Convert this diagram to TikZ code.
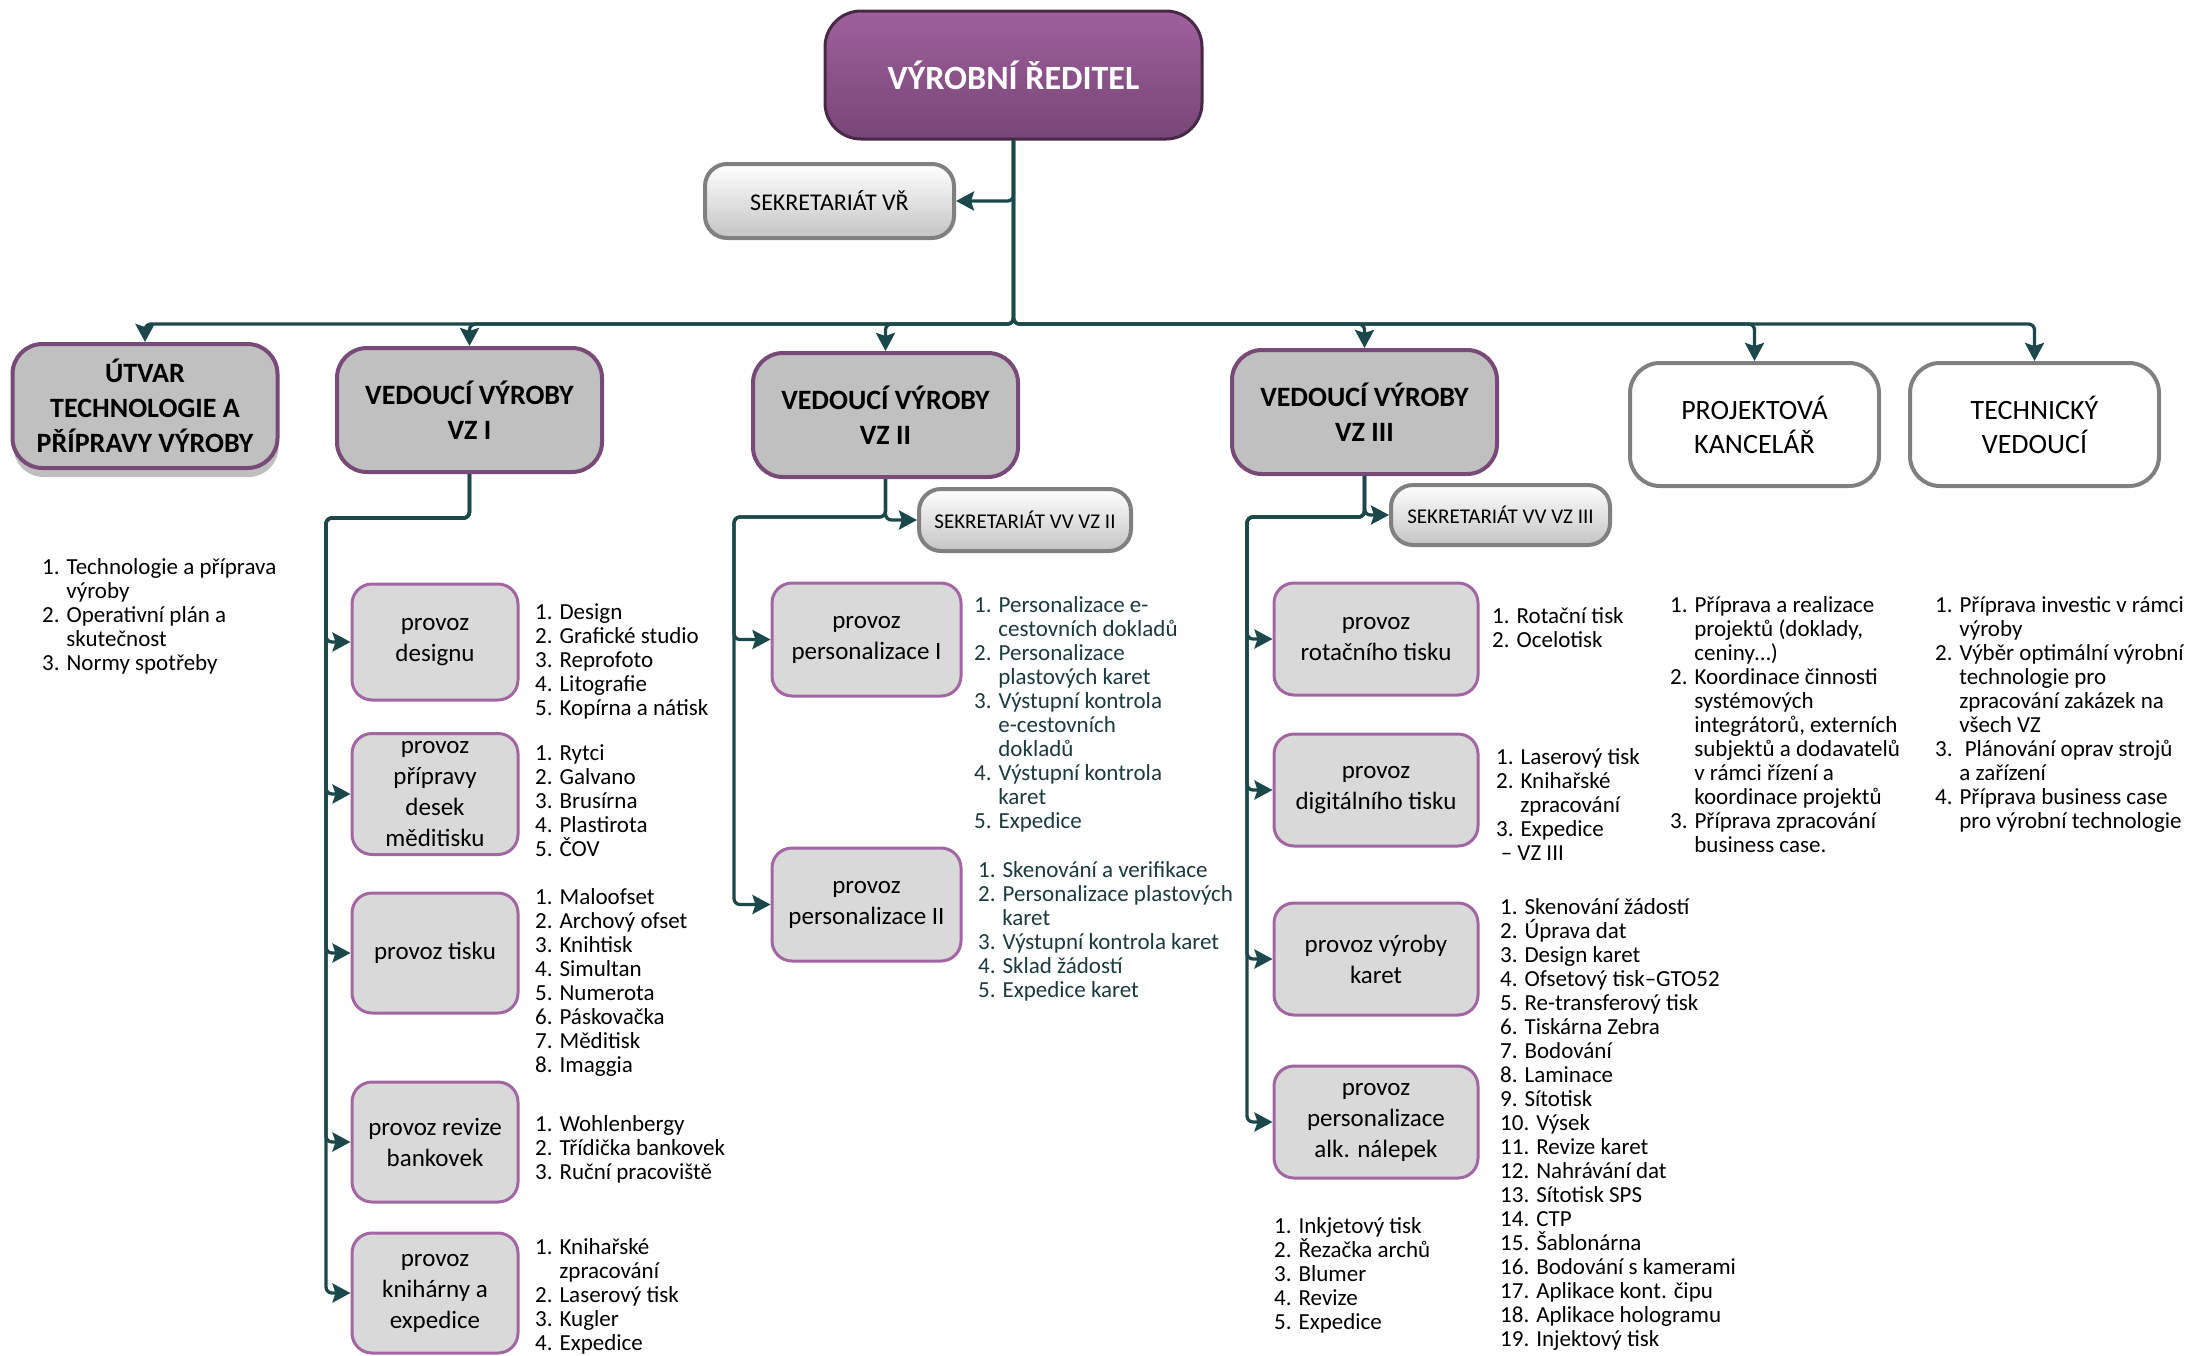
\documentclass[tikz,border=0pt]{standalone}
\usepackage{fontspec}
\setmainfont{Carlito}
\usetikzlibrary{arrows.meta,shadows,calc}
\definecolor{linec}{RGB}{27,72,74}
\definecolor{dirtop}{RGB}{158,96,156}
\definecolor{dirbot}{RGB}{120,70,118}
\definecolor{dirb}{RGB}{72,40,70}
\definecolor{vzfill}{RGB}{192,192,192}
\definecolor{vzb}{RGB}{120,74,120}
\definecolor{childfill}{RGB}{217,217,217}
\definecolor{childb}{RGB}{162,102,162}
\definecolor{grayb}{RGB}{128,128,128}
\definecolor{sekbot}{RGB}{196,196,196}
\definecolor{tealtext}{RGB}{26,58,62}
\newcommand{\ind}{\hspace*{1.05em}}
\newcommand{\nolsl}{\lineskiplimit=-100pt\relax}
\newcommand{\fvz}{\fontsize{28}{35}\selectfont\bfseries\nolsl}
\newcommand{\fgray}{\fontsize{28}{34}\selectfont\nolsl}
\newcommand{\fchild}{\fontsize{25}{31}\selectfont\nolsl}
\newcommand{\flist}{\fontsize{23}{24}\selectfont\nolsl}
\begin{document}
\begin{tikzpicture}[x=1pt,y=-1pt,
  conn/.style={draw=linec, line width=3.3pt, rounded corners=6pt},
  arr/.style={conn, -{Stealth[length=18pt,width=19pt,inset=3pt]}},
  dirbox/.style={rounded corners=36pt, draw=dirb, line width=3pt, top color=dirtop, bottom color=dirbot,
    text=white, font=\fontsize{34}{40}\selectfont\bfseries, minimum width=377pt, minimum height=128pt, inner sep=0pt},
  vzbox/.style={rounded corners=30pt, draw=vzb, line width=4pt, fill=vzfill, align=center,
    font=\fvz, minimum width=265pt, minimum height=124pt, inner sep=0pt},
  graybox/.style={rounded corners=30pt, draw=grayb, line width=4pt, fill=white, align=center,
    font=\fgray, minimum width=249pt, minimum height=123pt, inner sep=0pt},
  sekbox/.style={rounded corners=22pt, draw=grayb, line width=4pt, top color=white, bottom color=sekbot, inner sep=0pt},
  childbox/.style={rounded corners=20pt, draw=childb, line width=3pt, fill=childfill, align=center,
    font=\fchild, minimum height=116pt, inner sep=0pt},
  listtext/.style={anchor=north west, inner sep=0pt, align=left, font=\flist}
]
\useasboundingbox (0,0) rectangle (2197,1355);

% top level
\node[dirbox] (dir) at (1013.5,75) {VÝROBNÍ ŘEDITEL};
\node[sekbox, minimum width=249pt, minimum height=74pt, font=\fontsize{24}{28}\selectfont] (sekvr) at (829.5,201) {SEKRETARIÁT VŘ};

\node[vzbox, drop shadow={shadow xshift=1pt, shadow yshift=-9pt, fill=black, opacity=0.25}] (utv) at (145,406) {ÚTVAR\\TECHNOLOGIE A\\PŘÍPRAVY VÝROBY};
\node[vzbox] (vz1) at (469.5,410) {VEDOUCÍ VÝROBY\\VZ I};
\node[vzbox] (vz2) at (885.5,415) {VEDOUCÍ VÝROBY\\VZ II};
\node[vzbox] (vz3) at (1364.5,412) {VEDOUCÍ VÝROBY\\VZ III};
\node[graybox] (proj) at (1754.5,424.5) {PROJEKTOVÁ\\KANCELÁŘ};
\node[graybox] (tech) at (2034.5,424.5) {TECHNICKÝ\\VEDOUCÍ};

% secretariats
\node[sekbox, minimum width=212pt, minimum height=62pt, font=\fontsize{21}{24}\selectfont] (sek2) at (1025,520) {SEKRETARIÁT VV VZ II};
\node[sekbox, minimum width=219pt, minimum height=60pt, font=\fontsize{21}{24}\selectfont] (sek3) at (1500.5,515) {SEKRETARIÁT VV VZ III};

% VZ I children
\node[childbox, minimum width=166pt] (p11) at (435,642) {provoz\\designu};
\node[childbox, minimum width=166pt, minimum height=121pt] (p12) at (435,794) {provoz\\přípravy\\desek\\měditisku};
\node[childbox, minimum width=166pt, minimum height=120pt] (p13) at (435,953) {provoz tisku};
\node[childbox, minimum width=166pt, minimum height=120pt] (p14) at (435,1142) {provoz revize\\bankovek};
\node[childbox, minimum width=166pt, minimum height=120pt] (p15) at (435,1293) {provoz\\knihárny a\\expedice};

% VZ II children
\node[childbox, minimum width=189pt, minimum height=113pt] (p21) at (866.5,639.5) {provoz\\personalizace I};
\node[childbox, minimum width=189pt, minimum height=113pt] (p22) at (866.5,904.5) {provoz\\personalizace II};

% VZ III children
\node[childbox, minimum width=204pt, minimum height=112pt] (p31) at (1376,639) {provoz\\rotačního tisku};
\node[childbox, minimum width=204pt, minimum height=112pt] (p32) at (1376,790) {provoz\\digitálního tisku};
\node[childbox, minimum width=204pt, minimum height=112pt] (p33) at (1376,959) {provoz výroby\\karet};
\node[childbox, minimum width=204pt, minimum height=112pt] (p34) at (1376,1122) {provoz\\personalizace\\alk. nálepek};

% connectors
\coordinate (bus) at (0,324);
\draw[arr] (dir.south) |- (sekvr.east);
\foreach \n in {utv,vz1,vz2,vz3,proj,tech}
  \draw[arr] (dir.south) -- (dir.south |- bus) -| (\n.north);

\coordinate (r1) at (326,518);
\foreach \n in {p11,p12,p13,p14,p15}
  \draw[arr] (vz1.south) |- (r1) |- (\n.west);

\coordinate (r2) at (734,517);
\draw[arr] (vz2.south) |- (sek2.west);
\foreach \n in {p21,p22}
  \draw[arr] (vz2.south) |- (r2) |- (\n.west);

\coordinate (r3) at (1247,517);
\draw[arr] (vz3.south) |- (sek3.west);
\foreach \n in {p31,p32,p33,p34}
  \draw[arr] (vz3.south) |- (r3) |- (\n.west);

% lists
\node[listtext] (lu) at (42,557) {\strut 1. Technologie a příprava\\\ind výroby\\2. Operativní plán a\\\ind skutečnost\\3. Normy spotřeby};

\node[listtext] (l11) at (535,602) {\strut 1. Design\\2. Grafické studio\\3. Reprofoto\\4. Litografie\\5. Kopírna a nátisk};
\node[listtext] (l12) at (535,743) {\strut 1. Rytci\\2. Galvano\\3. Brusírna\\4. Plastirota\\5. ČOV};
\node[listtext] (l13) at (535,887) {\strut 1. Maloofset\\2. Archový ofset\\3. Knihtisk\\4. Simultan\\5. Numerota\\6. Páskovačka\\7. Měditisk\\8. Imaggia};
\node[listtext] (l14) at (535,1114) {\strut 1. Wohlenbergy\\2. Třídička bankovek\\3. Ruční pracoviště};
\node[listtext] (l15) at (535,1237) {\strut 1. Knihařské\\\ind zpracování\\2. Laserový tisk\\3. Kugler\\4. Expedice};

\node[listtext, text=tealtext] (l21) at (974,595) {\strut 1. Personalizace e-\\\ind cestovních dokladů\\2. Personalizace\\\ind plastových karet\\3. Výstupní kontrola\\\ind e-cestovních\\\ind dokladů\\4. Výstupní kontrola\\\ind karet\\5. Expedice};
\node[listtext, text=tealtext] (l22) at (978,860) {\strut 1. Skenování a verifikace\\2. Personalizace plastových\\\ind karet\\3. Výstupní kontrola karet\\4. Sklad žádostí\\5. Expedice karet};

\node[listtext] (l31) at (1492,606) {\strut 1. Rotační tisk\\2. Ocelotisk};
\node[listtext] (l32) at (1496,747) {\strut 1. Laserový tisk\\2. Knihařské\\\ind zpracování\\3. Expedice\\\hspace*{0.2em}– VZ III};
\node[listtext] (l33) at (1500,897) {\strut 1. Skenování žádostí\\2. Úprava dat\\3. Design karet\\4. Ofsetový tisk–GTO52\\5. Re-transferový tisk\\6. Tiskárna Zebra\\7. Bodování\\8. Laminace\\9. Sítotisk\\10. Výsek\\11. Revize karet\\12. Nahrávání dat\\13. Sítotisk SPS\\14. CTP\\15. Šablonárna\\16. Bodování s kamerami\\17. Aplikace kont. čipu\\18. Aplikace hologramu\\19. Injektový tisk};
\node[listtext] (l34) at (1274,1216) {\strut 1. Inkjetový tisk\\2. Řezačka archů\\3. Blumer\\4. Revize\\5. Expedice};

\node[listtext] (lp) at (1670,595) {\strut 1. Příprava a realizace\\\ind projektů (doklady,\\\ind ceniny…)\\2. Koordinace činnosti\\\ind systémových\\\ind integrátorů, externích\\\ind subjektů a dodavatelů\\\ind v rámci řízení a\\\ind koordinace projektů\\3. Příprava zpracování\\\ind business case.};
\node[listtext] (lt) at (1935,595) {\strut 1. Příprava investic v rámci\\\ind výroby\\2. Výběr optimální výrobní\\\ind technologie pro\\\ind zpracování zakázek na\\\ind všech VZ\\3. \ Plánování oprav strojů\\\ind a zařízení\\4. Příprava business case\\\ind pro výrobní technologie};
\end{tikzpicture}
\end{document}
